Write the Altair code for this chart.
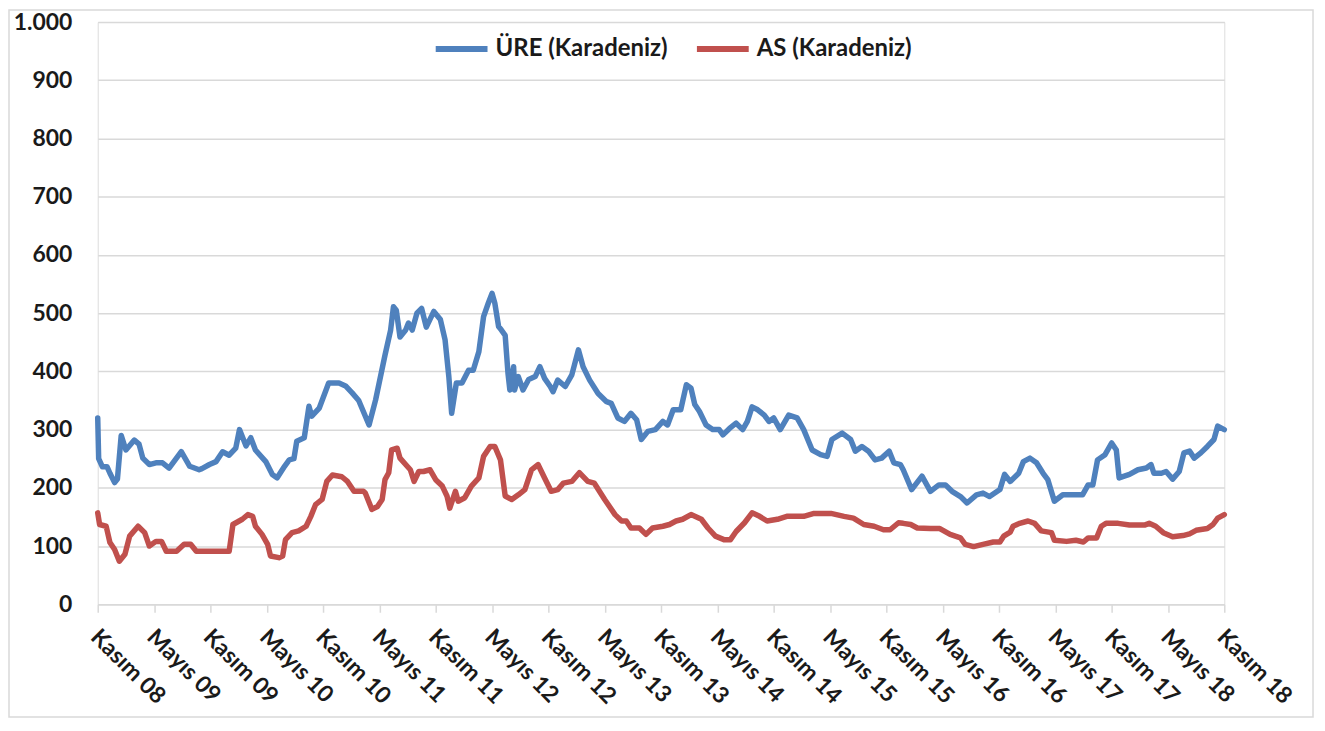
import altair as alt
import pandas as pd

# Month offset from November 2008 (0 = Kasım 08, 120 = Kasım 18)
ure_month = [0, 0.1, 0.5, 1.0, 1.3, 1.8, 2.1, 2.5, 3.0, 3.9,
             4.4, 4.8, 5.5, 6.2, 6.9, 7.6, 8.9, 9.8, 10.8, 11.1,
             11.9, 12.6, 13.3, 14.0, 14.7, 15.1, 15.8, 16.3, 16.8, 17.9,
             18.6, 19.1, 19.9, 20.4, 20.9, 21.2, 22.0, 22.5, 22.8, 23.6,
             24.6, 25.7, 26.4, 27.1, 27.8, 28.9, 29.6, 30.6, 31.2, 31.5,
             31.8, 32.2, 32.8, 33.1, 33.5, 34.0, 34.5, 35.0, 35.8, 36.5,
             37.0, 37.4, 37.7, 38.2, 38.8, 39.5, 40.0, 40.6, 41.1, 41.6,
             42.0, 42.3, 42.7, 43.0, 43.4, 43.7, 43.9, 44.3, 44.4, 44.8,
             45.3, 45.9, 46.6, 47.1, 47.6, 48.2, 48.5, 49.0, 49.8, 50.5,
             51.2, 51.7, 52.4, 53.3, 54.2, 54.7, 55.4, 56.1, 56.8, 57.4,
             57.9, 58.6, 59.4, 60.2, 60.7, 61.3, 62.1, 62.7, 63.2, 63.6,
             64.1, 64.8, 65.5, 66.2, 66.6, 67.3, 68.0, 68.7, 69.2, 69.7,
             70.3, 71.0, 71.5, 72.0, 72.7, 73.6, 74.5, 75.2, 76.1, 77.0,
             77.7, 78.2, 79.3, 80.2, 80.7, 81.4, 82.1, 82.8, 83.5, 84.3,
             84.8, 85.5, 85.8, 86.7, 87.8, 88.7, 89.6, 90.3, 91.0, 91.9,
             92.6, 93.6, 94.3, 95.0, 96.1, 96.6, 97.2, 98.1, 98.6, 99.3,
             100.0, 100.7, 101.2, 101.9, 102.8, 103.9, 104.9, 105.5, 106.0, 106.5,
             107.3, 108.0, 108.5, 108.8, 109.9, 110.8, 111.7, 112.2, 112.5, 113.3,
             113.8, 114.5, 115.2, 115.7, 116.3, 116.8, 117.5, 118.2, 118.9, 119.3,
             120.0]
ure_value = [320, 250, 236, 236, 225, 209, 215, 290, 265, 282,
             275, 251, 240, 243, 243, 234, 262, 237, 231, 233,
             240, 245, 262, 256, 268, 300, 272, 286, 265, 245,
             223, 217, 237, 248, 250, 280, 286, 340, 323, 337,
             380, 380, 375, 363, 350, 308, 351, 428, 471, 511,
             505, 459, 471, 483, 471, 500, 508, 476, 503, 489,
             454, 391, 328, 380, 380, 402, 402, 434, 494, 517,
             534, 517, 477, 471, 462, 397, 368, 408, 368, 391,
             368, 386, 391, 408, 388, 374, 365, 385, 374, 394,
             437, 408, 385, 362, 348, 345, 320, 314, 328, 317,
             283, 297, 300, 314, 308, 334, 334, 377, 371, 343,
             331, 308, 300, 300, 291, 302, 311, 300, 314, 339,
             334, 325, 314, 320, 300, 325, 320, 300, 265, 257,
             254, 283, 294, 283, 263, 271, 263, 248, 251, 263,
             243, 240, 231, 197, 220, 194, 205, 205, 194, 185,
             174, 188, 191, 185, 197, 223, 211, 225, 245, 251,
             243, 225, 214, 177, 188, 188, 188, 205, 205, 248,
             257, 277, 265, 217, 223, 231, 234, 240, 225, 225,
             228, 215, 228, 260, 263, 251, 260, 271, 283, 306,
             300]

as_month = [0, 0.2, 0.9, 1.3, 1.8, 2.3, 2.9, 3.4, 4.3, 5.0,
            5.5, 6.2, 6.8, 7.3, 8.4, 9.2, 9.9, 10.5, 14.0, 14.4,
            15.4, 16.0, 16.5, 16.8, 17.5, 18.1, 18.4, 19.3, 19.7, 20.0,
            20.7, 21.4, 22.2, 22.7, 23.2, 23.9, 24.4, 25.0, 26.0, 26.6,
            27.3, 28.3, 28.5, 29.2, 29.8, 30.3, 30.6, 31.0, 31.3, 31.9,
            32.2, 32.8, 33.3, 33.7, 34.2, 34.7, 35.4, 36.0, 36.7, 37.2,
            37.5, 38.1, 38.4, 39.1, 39.8, 40.6, 41.1, 41.8, 42.3, 42.9,
            43.4, 44.1, 44.8, 45.5, 46.2, 46.9, 47.6, 48.3, 49.0, 49.6,
            50.5, 51.3, 52.2, 52.9, 54.0, 55.1, 55.8, 56.3, 56.8, 57.7,
            58.4, 59.1, 60.2, 60.9, 61.6, 62.3, 63.2, 64.3, 65.0, 65.8,
            66.7, 67.4, 68.0, 68.9, 69.7, 70.5, 71.3, 72.4, 73.4, 75.2,
            76.3, 78.1, 79.5, 80.5, 81.6, 82.7, 83.7, 84.4, 85.3, 85.8,
            86.6, 87.3, 88.7, 89.7, 90.8, 91.9, 92.4, 93.3, 94.3, 95.4,
            96.1, 96.5, 97.2, 97.5, 98.2, 99.1, 99.8, 100.5, 101.6, 101.9,
            103.2, 104.2, 105.0, 105.5, 106.4, 106.9, 107.4, 108.7, 109.9, 111.5,
            112.0, 112.7, 113.5, 114.5, 115.6, 116.3, 117.0, 118.2, 118.8, 119.3,
            120.0]
as_value = [157, 137, 134, 106, 94, 74, 86, 117, 134, 123,
            100, 108, 108, 91, 91, 103, 103, 91, 91, 137,
            146, 154, 151, 134, 120, 103, 83, 80, 83, 111,
            123, 126, 134, 151, 171, 180, 211, 222, 219, 211,
            194, 194, 191, 163, 168, 180, 214, 226, 265, 268,
            251, 240, 231, 211, 228, 228, 231, 214, 203, 186,
            165, 194, 177, 183, 203, 217, 254, 271, 271, 248,
            186, 180, 188, 197, 231, 240, 217, 194, 197, 208,
            211, 226, 211, 208, 180, 154, 143, 143, 131, 131,
            120, 131, 134, 137, 143, 146, 154, 146, 131, 117,
            111, 111, 125, 140, 157, 151, 143, 146, 151, 151,
            156, 156, 151, 148, 137, 134, 128, 128, 140, 139,
            137, 131, 130, 130, 120, 114, 103, 99, 103, 107,
            107, 117, 124, 134, 139, 143, 139, 126, 123, 110,
            108, 110, 107, 114, 114, 134, 139, 139, 136, 136,
            139, 134, 123, 116, 118, 121, 127, 130, 137, 148,
            154]

series_names = ["ÜRE (Karadeniz)", "AS (Karadeniz)"]
series_colors = ["#4F81BD", "#C0504D"]
tick_labels = ["Kasım 08", "Mayıs 09", "Kasım 09", "Mayıs 10", "Kasım 10",
               "Mayıs 11", "Kasım 11", "Mayıs 12", "Kasım 12", "Mayıs 13",
               "Kasım 13", "Mayıs 14", "Kasım 14", "Mayıs 15", "Kasım 15",
               "Mayıs 16", "Kasım 16", "Mayıs 17", "Kasım 17", "Mayıs 18",
               "Kasım 18"]
tick_months = [i * 6 for i in range(len(tick_labels))]
y_ticks = list(range(0, 1001, 100))

df = pd.concat([
    pd.DataFrame({"month": ure_month, "value": ure_value, "series": series_names[0], "order": 0}),
    pd.DataFrame({"month": as_month, "value": as_value, "series": series_names[1], "order": 1}),
], ignore_index=True)

FONT = "Lato"
label_array = "[" + ",".join("'" + t + "'" for t in tick_labels) + "]"

lines = alt.Chart(df).mark_line(strokeWidth=5.5, strokeJoin="round", strokeCap="round").encode(
    x=alt.X("month:Q",
            scale=alt.Scale(domain=[0, 120], nice=False, zero=False),
            axis=alt.Axis(values=tick_months, title=None, grid=False,
                          labelExpr=label_array + "[round(datum.value / 6)]",
                          labelAngle=45, labelAlign="left", labelBaseline="top",
                          labelFont=FONT, labelFontSize=23, labelFontWeight="bold",
                          labelColor="#1a1a1a", labelPadding=13, labelOffset=4,
                          domainColor="#D9D9D9", domainWidth=1.5,
                          tickColor="#D9D9D9", tickWidth=1.5, tickSize=8,
                          labelOverlap=False, labelBound=False, labelFlush=False)),
    y=alt.Y("value:Q",
            scale=alt.Scale(domain=[0, 1000], nice=False),
            axis=alt.Axis(values=y_ticks, title=None, domain=False, ticks=False,
                          labelExpr="replace(format(datum.value, ','), ',', '.')",
                          labelFont=FONT, labelFontSize=23, labelFontWeight="bold",
                          labelColor="#1a1a1a", labelPadding=26,
                          gridColor="#D9D9D9", gridWidth=1.5)),
    color=alt.Color("series:N",
                    scale=alt.Scale(domain=series_names, range=series_colors),
                    legend=alt.Legend(title=None, orient="none", legendX=336, legendY=-2,
                                      direction="horizontal", symbolType="stroke",
                                      symbolSize=2700, symbolStrokeWidth=6,
                                      labelFont=FONT, labelFontSize=24,
                                      labelFontWeight="bold", labelColor="#1a1a1a",
                                      labelLimit=400,
                                      labelOffset=5, columnPadding=17, padding=0)),
    order="order:Q",
)

border = alt.Chart(pd.DataFrame({"b": [0]})).mark_rect(
    filled=False, stroke="#D9D9D9", strokeWidth=1.5
).encode(
    x=alt.value(-89), x2=alt.value(1219), y=alt.value(-12), y2=alt.value(697)
)

chart = alt.layer(border, lines).properties(
    width=1130, height=584,
    autosize={"type": "none"},
    padding={"left": 90, "top": 13, "right": 93, "bottom": 115},
).configure_view(stroke=None).configure(background="white")

chart.save("out.html", embed_options={"renderer": "svg", "actions": False})
